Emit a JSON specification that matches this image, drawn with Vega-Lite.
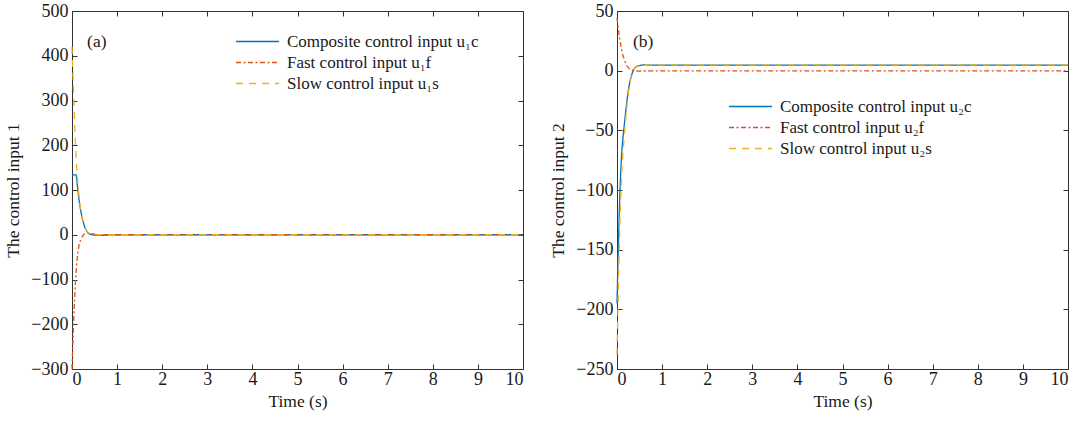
{
  "$schema": "https://vega.github.io/schema/vega-lite/v6.json",
  "background": "white",
  "padding": {"left": 4, "top": 2, "right": 5, "bottom": 3},
  "datasets": {
    "left": [
      {"t": 0, "v": 134, "s": "Composite control input u₁c"},
      {"t": 0.02, "v": 134, "s": "Composite control input u₁c"},
      {"t": 0.04, "v": 134, "s": "Composite control input u₁c"},
      {"t": 0.06, "v": 134, "s": "Composite control input u₁c"},
      {"t": 0.08, "v": 134, "s": "Composite control input u₁c"},
      {"t": 0.09, "v": 134, "s": "Composite control input u₁c"},
      {"t": 0.1, "v": 128, "s": "Composite control input u₁c"},
      {"t": 0.13, "v": 100, "s": "Composite control input u₁c"},
      {"t": 0.16, "v": 75, "s": "Composite control input u₁c"},
      {"t": 0.2, "v": 50, "s": "Composite control input u₁c"},
      {"t": 0.25, "v": 28, "s": "Composite control input u₁c"},
      {"t": 0.3, "v": 13, "s": "Composite control input u₁c"},
      {"t": 0.35, "v": 5, "s": "Composite control input u₁c"},
      {"t": 0.4, "v": 1.5, "s": "Composite control input u₁c"},
      {"t": 0.5, "v": -1, "s": "Composite control input u₁c"},
      {"t": 0.6, "v": -1.5, "s": "Composite control input u₁c"},
      {"t": 0.8, "v": -0.5, "s": "Composite control input u₁c"},
      {"t": 1, "v": 0, "s": "Composite control input u₁c"},
      {"t": 10, "v": 0, "s": "Composite control input u₁c"},
      {"t": 0, "v": -300, "s": "Fast control input u₁f"},
      {"t": 0.02, "v": -240, "s": "Fast control input u₁f"},
      {"t": 0.04, "v": -185, "s": "Fast control input u₁f"},
      {"t": 0.06, "v": -140, "s": "Fast control input u₁f"},
      {"t": 0.08, "v": -100, "s": "Fast control input u₁f"},
      {"t": 0.1, "v": -70, "s": "Fast control input u₁f"},
      {"t": 0.13, "v": -40, "s": "Fast control input u₁f"},
      {"t": 0.16, "v": -22, "s": "Fast control input u₁f"},
      {"t": 0.2, "v": -10, "s": "Fast control input u₁f"},
      {"t": 0.25, "v": -1, "s": "Fast control input u₁f"},
      {"t": 0.3, "v": 3, "s": "Fast control input u₁f"},
      {"t": 0.35, "v": 4, "s": "Fast control input u₁f"},
      {"t": 0.4, "v": 3, "s": "Fast control input u₁f"},
      {"t": 0.5, "v": 1, "s": "Fast control input u₁f"},
      {"t": 0.6, "v": 0.3, "s": "Fast control input u₁f"},
      {"t": 0.8, "v": 0, "s": "Fast control input u₁f"},
      {"t": 10, "v": 0, "s": "Fast control input u₁f"},
      {"t": 0, "v": 420, "s": "Slow control input u₁s"},
      {"t": 0.02, "v": 360, "s": "Slow control input u₁s"},
      {"t": 0.04, "v": 303, "s": "Slow control input u₁s"},
      {"t": 0.06, "v": 245, "s": "Slow control input u₁s"},
      {"t": 0.08, "v": 195, "s": "Slow control input u₁s"},
      {"t": 0.1, "v": 155, "s": "Slow control input u₁s"},
      {"t": 0.13, "v": 115, "s": "Slow control input u₁s"},
      {"t": 0.16, "v": 82, "s": "Slow control input u₁s"},
      {"t": 0.2, "v": 52, "s": "Slow control input u₁s"},
      {"t": 0.25, "v": 28, "s": "Slow control input u₁s"},
      {"t": 0.3, "v": 13, "s": "Slow control input u₁s"},
      {"t": 0.35, "v": 6, "s": "Slow control input u₁s"},
      {"t": 0.4, "v": 2, "s": "Slow control input u₁s"},
      {"t": 0.5, "v": 0, "s": "Slow control input u₁s"},
      {"t": 10, "v": 0, "s": "Slow control input u₁s"}
    ],
    "right": [
      {"t": 0, "v": -195, "s": "Composite control input u₂c"},
      {"t": 0.02, "v": -162, "s": "Composite control input u₂c"},
      {"t": 0.04, "v": -133, "s": "Composite control input u₂c"},
      {"t": 0.06, "v": -107, "s": "Composite control input u₂c"},
      {"t": 0.08, "v": -88, "s": "Composite control input u₂c"},
      {"t": 0.1, "v": -72, "s": "Composite control input u₂c"},
      {"t": 0.13, "v": -57, "s": "Composite control input u₂c"},
      {"t": 0.16, "v": -46, "s": "Composite control input u₂c"},
      {"t": 0.2, "v": -32, "s": "Composite control input u₂c"},
      {"t": 0.25, "v": -17, "s": "Composite control input u₂c"},
      {"t": 0.3, "v": -7, "s": "Composite control input u₂c"},
      {"t": 0.35, "v": -1, "s": "Composite control input u₂c"},
      {"t": 0.4, "v": 2.5, "s": "Composite control input u₂c"},
      {"t": 0.5, "v": 4.3, "s": "Composite control input u₂c"},
      {"t": 0.6, "v": 4.8, "s": "Composite control input u₂c"},
      {"t": 0.8, "v": 4.7, "s": "Composite control input u₂c"},
      {"t": 10, "v": 4.7, "s": "Composite control input u₂c"},
      {"t": 0, "v": 44, "s": "Fast control input u₂f"},
      {"t": 0.02, "v": 38, "s": "Fast control input u₂f"},
      {"t": 0.04, "v": 32, "s": "Fast control input u₂f"},
      {"t": 0.06, "v": 27, "s": "Fast control input u₂f"},
      {"t": 0.08, "v": 22, "s": "Fast control input u₂f"},
      {"t": 0.1, "v": 18, "s": "Fast control input u₂f"},
      {"t": 0.13, "v": 13, "s": "Fast control input u₂f"},
      {"t": 0.16, "v": 9.5, "s": "Fast control input u₂f"},
      {"t": 0.2, "v": 5.5, "s": "Fast control input u₂f"},
      {"t": 0.25, "v": 2.5, "s": "Fast control input u₂f"},
      {"t": 0.3, "v": 1, "s": "Fast control input u₂f"},
      {"t": 0.35, "v": 0.3, "s": "Fast control input u₂f"},
      {"t": 0.4, "v": 0, "s": "Fast control input u₂f"},
      {"t": 0.5, "v": -0.3, "s": "Fast control input u₂f"},
      {"t": 1, "v": -0.2, "s": "Fast control input u₂f"},
      {"t": 10, "v": -0.2, "s": "Fast control input u₂f"},
      {"t": 0, "v": -238, "s": "Slow control input u₂s"},
      {"t": 0.02, "v": -200, "s": "Slow control input u₂s"},
      {"t": 0.04, "v": -165, "s": "Slow control input u₂s"},
      {"t": 0.06, "v": -134, "s": "Slow control input u₂s"},
      {"t": 0.08, "v": -110, "s": "Slow control input u₂s"},
      {"t": 0.1, "v": -90, "s": "Slow control input u₂s"},
      {"t": 0.13, "v": -70, "s": "Slow control input u₂s"},
      {"t": 0.16, "v": -55.5, "s": "Slow control input u₂s"},
      {"t": 0.2, "v": -37.5, "s": "Slow control input u₂s"},
      {"t": 0.25, "v": -19.5, "s": "Slow control input u₂s"},
      {"t": 0.3, "v": -8, "s": "Slow control input u₂s"},
      {"t": 0.35, "v": -1.3, "s": "Slow control input u₂s"},
      {"t": 0.4, "v": 2.5, "s": "Slow control input u₂s"},
      {"t": 0.5, "v": 4.6, "s": "Slow control input u₂s"},
      {"t": 0.6, "v": 5, "s": "Slow control input u₂s"},
      {"t": 0.8, "v": 4.8, "s": "Slow control input u₂s"},
      {"t": 10, "v": 4.8, "s": "Slow control input u₂s"}
    ]
  },
  "config": {
    "font": "Liberation Serif",
    "view": {"stroke": null},
    "axis": {
      "labelFont": "Liberation Serif", "labelFontSize": 18, "labelColor": "#1a1a1a",
      "titleFont": "Liberation Serif", "titleFontSize": 17.5, "titleFontWeight": "normal", "titleColor": "#1a1a1a",
      "domainColor": "#333333", "tickColor": "#333333", "tickSize": -5, "labelPadding": 9, "titlePadding": 8,
      "labelOverlap": false, "grid": false
    },
    "axisX": {"labelPadding": 6, "titlePadding": 4},
    "legend": {
      "labelFont": "Liberation Serif", "labelFontSize": 17, "labelColor": "#1a1a1a", "labelLimit": 0,
      "symbolType": "stroke", "symbolSize": 1849, "symbolStrokeWidth": 1.4, "clipHeight": 21, "labelOffset": 7,
      "title": null, "orient": "none", "padding": 0, "rowPadding": 0
    }
  },
  "spacing": 23,
  "hconcat": [
    {
      "width": 451, "height": 358,
      "layer": [
        {
          "data": {"name": "left"},
          "mark": {"type": "line", "strokeWidth": 1.3, "interpolate": "monotone"},
          "encoding": {
            "x": {"field": "t", "type": "quantitative", "scale": {"domain": [0, 10], "nice": false},
                  "axis": {"title": "Time (s)", "values": [0,1,2,3,4,5,6,7,8,9,10]}},
            "y": {"field": "v", "type": "quantitative", "scale": {"domain": [-300, 500], "nice": false},
                  "axis": {"title": "The control input 1", "values": [-300,-200,-100,0,100,200,300,400,500]}},
            "color": {"field": "s", "type": "nominal",
              "scale": {"domain": ["Composite control input u₁c", "Fast control input u₁f", "Slow control input u₁s"],
                        "range": ["#0072BD", "#D95319", "#EDB120"]},
              "legend": {"legendX": 163, "legendY": 20}},
            "strokeDash": {"field": "s", "type": "nominal",
              "scale": {"domain": ["Composite control input u₁c", "Fast control input u₁f", "Slow control input u₁s"],
                        "range": [[1, 0], [5, 2.5, 2, 2.5], [7, 6]]},
              "legend": {"legendX": 163, "legendY": 20}}
          }
        },
        {
          "data": {"values": [{"label": "(a)"}]},
          "mark": {"type": "text", "fontSize": 17.5, "font": "Liberation Serif", "color": "#1a1a1a"},
          "encoding": {
            "x": {"datum": 0.55, "type": "quantitative", "axis": {"orient": "top", "labels": false, "title": null, "values": [0,1,2,3,4,5,6,7,8,9,10]}},
            "y": {"datum": 430, "type": "quantitative", "axis": {"orient": "right", "labels": false, "title": null, "values": [-300,-200,-100,0,100,200,300,400,500]}},
            "text": {"field": "label"}
          }
        }
      ],
      "resolve": {"axis": {"x": "independent", "y": "independent"}}
    },
    {
      "width": 451, "height": 358,
      "layer": [
        {
          "data": {"name": "right"},
          "mark": {"type": "line", "strokeWidth": 1.3, "interpolate": "monotone"},
          "encoding": {
            "x": {"field": "t", "type": "quantitative", "scale": {"domain": [0, 10], "nice": false},
                  "axis": {"title": "Time (s)", "values": [0,1,2,3,4,5,6,7,8,9,10]}},
            "y": {"field": "v", "type": "quantitative", "scale": {"domain": [-250, 50], "nice": false},
                  "axis": {"title": "The control input 2", "values": [-250,-200,-150,-100,-50,0,50]}},
            "color": {"field": "s", "type": "nominal",
              "scale": {"domain": ["Composite control input u₂c", "Fast control input u₂f", "Slow control input u₂s"],
                        "range": ["#0072BD", "#D95319", "#EDB120"]},
              "legend": {"legendX": 111, "legendY": 85}},
            "strokeDash": {"field": "s", "type": "nominal",
              "scale": {"domain": ["Composite control input u₂c", "Fast control input u₂f", "Slow control input u₂s"],
                        "range": [[1, 0], [5, 2.5, 2, 2.5], [7, 6]]},
              "legend": {"legendX": 111, "legendY": 85}}
          }
        },
        {
          "data": {"values": [{"label": "(b)"}]},
          "mark": {"type": "text", "fontSize": 17.5, "font": "Liberation Serif", "color": "#1a1a1a"},
          "encoding": {
            "x": {"datum": 0.58, "type": "quantitative", "axis": {"orient": "top", "labels": false, "title": null, "values": [0,1,2,3,4,5,6,7,8,9,10]}},
            "y": {"datum": 24, "type": "quantitative", "axis": {"orient": "right", "labels": false, "title": null, "values": [-250,-200,-150,-100,-50,0,50]}},
            "text": {"field": "label"}
          }
        }
      ],
      "resolve": {"axis": {"x": "independent", "y": "independent"}}
    }
  ],
  "resolve": {"scale": {"color": "independent", "strokeDash": "independent", "x": "independent", "y": "independent"}, "legend": {"color": "independent", "strokeDash": "independent"}}
}
